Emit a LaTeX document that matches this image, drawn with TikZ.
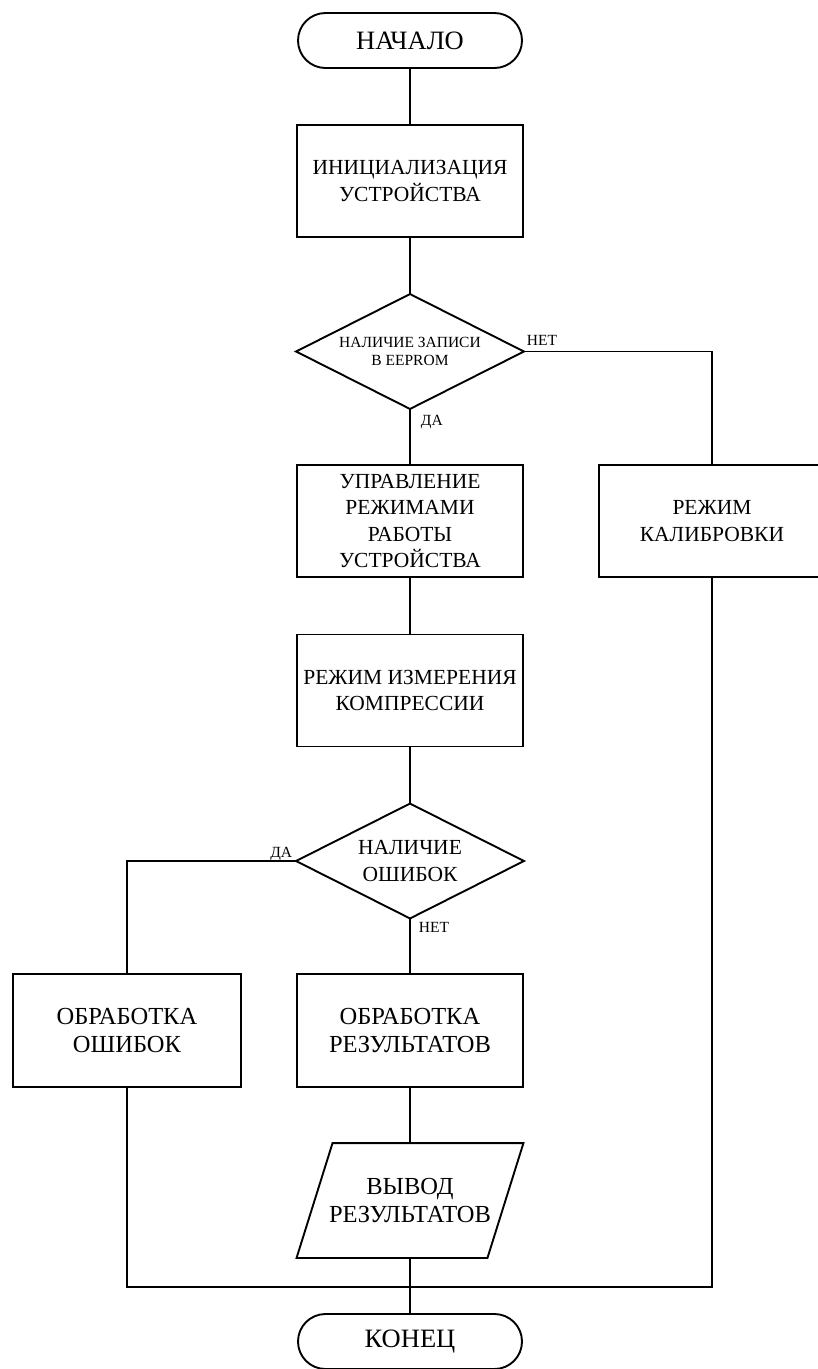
\documentclass[tikz,border=0pt]{standalone}
\usepackage{fontspec}
\setmainfont{Liberation Serif}
\usetikzlibrary{calc}
\begin{document}
\begin{tikzpicture}[x=1pt,y=-1pt, line width=1.9pt,
  big/.style={font=\fontsize{21.5}{26.5}\selectfont},
  bigger/.style={font=\fontsize{24.5}{28.5}\selectfont},
  huge/.style={font=\fontsize{26.5}{30}\selectfont},
  small/.style={font=\fontsize{15.5}{18}\selectfont},
  lbl/.style={font=\fontsize{15.5}{18}\selectfont, inner sep=0pt},
  term/.style={draw, rectangle, rounded corners=27.5pt, minimum width=224pt, minimum height=55pt, inner sep=0pt, huge, align=center},
  proc/.style={draw, rectangle, minimum width=226pt, minimum height=112pt, inner sep=0pt, big, align=center},
  dec/.style={rectangle, minimum width=226pt, minimum height=113pt, inner sep=0pt, align=center},
  iobox/.style={rectangle, minimum width=189pt, minimum height=113pt, inner sep=0pt, bigger, align=center}
]
\useasboundingbox (0,0) rectangle (818,1369);
\clip (0,0) rectangle (818,1369);

\node[term] (start) at (410,40.5) {НАЧАЛО};
\node[proc] (init) at (410,181) {ИНИЦИАЛИЗАЦИЯ\\УСТРОЙСТВА};
\node[dec, small] (d1) at (410,351.5) {НАЛИЧИЕ ЗАПИСИ\\В EEPROM};
\draw (d1.north) -- (d1.east) -- (d1.south) -- (d1.west) -- cycle;
\node[proc] (ctrl) at (410,521) {УПРАВЛЕНИЕ\\РЕЖИМАМИ\\РАБОТЫ\\УСТРОЙСТВА};
\node[proc] (calib) at (712,521) {РЕЖИМ\\КАЛИБРОВКИ};
\node[proc] (meas) at (410,690.5) {РЕЖИМ ИЗМЕРЕНИЯ\\КОМПРЕССИИ};
\node[dec, big] (d2) at (410,861) {НАЛИЧИЕ\\ОШИБОК};
\draw (d2.north) -- (d2.east) -- (d2.south) -- (d2.west) -- cycle;
\node[proc, bigger, minimum width=228pt, minimum height=113pt] (errs) at (127,1030.5) {ОБРАБОТКА\\ОШИБОК};
\node[proc, bigger, minimum height=113pt] (res) at (410,1030.5) {ОБРАБОТКА\\РЕЗУЛЬТАТОВ};
\node[iobox] (out) at (410,1200.5) {ВЫВОД\\РЕЗУЛЬТАТОВ};
\draw ($(out.south west)+(-18,0)$) -- ($(out.north west)+(18,0)$) -- ($(out.north east)+(18,0)$) -- ($(out.south east)+(-18,0)$) -- cycle;
\node[term] (end) at (410,1341.5) {КОНЕЦ};
\coordinate (jn) at (410,1287);

\draw (start) -- (init);
\draw (init) -- (d1.north);
\draw (d1.south) -- (ctrl.north);
\draw (d1.east) -| (calib.north);
\draw (ctrl) -- (meas);
\draw (meas) -- (d2.north);
\draw (d2.south) -- (res.north);
\draw (d2.west) -| (errs.north);
\draw (res) -- (out);
\draw (out) -- (end);
\draw (errs.south) |- (jn) -| (calib.south);

\node[lbl, anchor=base west] (l1) at (526,345) {НЕТ};
\node[lbl, anchor=base west] (l2) at (420,425) {ДА};
\node[lbl, anchor=base east] (l3) at (293,857) {ДА};
\node[lbl, anchor=base west] (l4) at (418,932) {НЕТ};
\end{tikzpicture}
\end{document}
